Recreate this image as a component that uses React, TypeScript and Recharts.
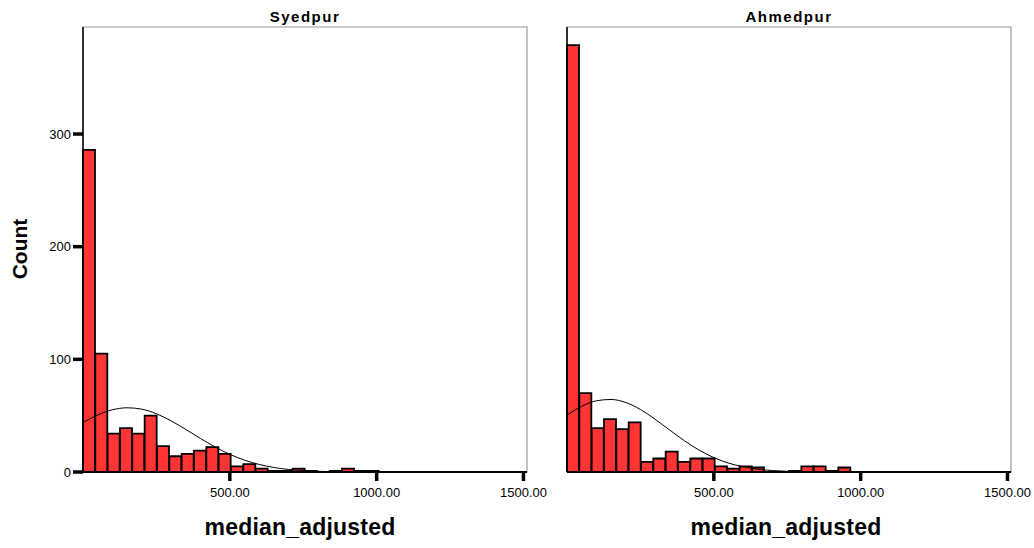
import { ComposedChart, Bar, Line, XAxis, YAxis, ReferenceArea } from 'recharts';

const binStarts = [
  0, 42, 84, 126, 168, 210, 252, 294, 336, 378, 420, 462, 504, 546, 588, 630, 672, 714,
  756, 798, 840, 882, 924, 966, 1008, 1050, 1092, 1134, 1176, 1218, 1260, 1302, 1344, 1386, 1428, 1470,
];
const binWidth = 42;

const syedpurCounts = [
  286, 105, 34, 39, 34, 50, 23, 14, 16, 19, 22, 16, 5, 7, 3, 1, 1, 3,
  1, 0, 1, 3, 1, 1, 0, 0, 0, 0, 0, 0, 0, 0, 0, 0, 0, 0,
];
const ahmedpurCounts = [
  379, 70, 39, 47, 38, 44, 9, 12, 18, 9, 12, 12, 5, 3, 5, 4, 0, 0,
  1, 5, 5, 1, 4, 0, 0, 0, 0, 0, 0, 0, 0, 0, 0, 0, 0, 0,
];

// normal curve
const curveX = [
  0, 50, 100, 150, 200, 250, 300, 350, 400, 450, 500, 550, 600, 650, 700, 750, 800, 850, 900,
  1000, 1100, 1200, 1300, 1400, 1500,
];
const syedpurNormal = [
  44, 50.6, 55.2, 57, 55.8, 51.7, 45.4, 37.8, 29.8, 22.2, 15.7, 10.5, 6.7, 4, 2.3, 1.2, 0.6, 0.3, 0.1,
  0, 0, 0, 0, 0, 0,
];
const ahmedpurNormal = [
  50.5, 58.3, 63.2, 64.4, 61.7, 55.5, 46.8, 37.2, 27.7, 19.4, 12.8, 7.9, 4.6, 2.5, 1.3, 0.6, 0.3, 0.1, 0,
  0, 0, 0, 0, 0, 0,
];

const xTicks = [500, 1000, 1500];
const yTicks = [0, 100, 200, 300];

const FONT = 'Arial, "Liberation Sans", sans-serif';
const W = 560;
const H = 548;

function Panel({ counts, normal, showYLabels }: { counts: number[]; normal: number[]; showYLabels: boolean }) {
  const data = binStarts.map((b, i) => ({ bin: String(b), x: b + binWidth / 2, count: counts[i] }));
  const curve = curveX.map((x, i) => ({ x, normal: normal[i] }));

  return (
    <ComposedChart
      width={W}
      height={H}
      data={data}
      barCategoryGap={0}
      margin={{ top: 27, right: 33, left: 0, bottom: 0 }}
    >
      <ReferenceArea
        xAxisId="num"
        x1={0}
        x2={1512}
        y1={0}
        y2={395}
        fill="none"
        stroke="#999999"
        strokeWidth={1.2}
        ifOverflow="visible"
      />
      <XAxis xAxisId="cat" dataKey="bin" type="category" hide height={0} />
      <XAxis
        xAxisId="num"
        dataKey="x"
        type="number"
        domain={[0, 1512]}
        allowDataOverflow
        ticks={xTicks}
        tickFormatter={(v: number) => v.toFixed(2)}
        height={76}
        tickSize={9}
        tickMargin={7}
        axisLine={{ stroke: '#000', strokeWidth: 2 }}
        tickLine={{ stroke: '#000', strokeWidth: 3.5 }}
        tick={{ fill: '#000', fontSize: 13, fontFamily: FONT }}
      />
      <YAxis
        domain={[0, 395]}
        allowDataOverflow
        ticks={yTicks}
        width={83}
        tickSize={10}
        tickMargin={2}
        axisLine={{ stroke: '#000', strokeWidth: 1.5 }}
        tickLine={{ stroke: '#000', strokeWidth: 3.5 }}
        tick={showYLabels ? { fill: '#000', fontSize: 13, fontFamily: FONT } : false}
      />
      <Bar
        xAxisId="cat"
        dataKey="count"
        fill="#ff3434"
        stroke="#000"
        strokeWidth={1.8}
        isAnimationActive={false}
      />
      <Line
        xAxisId="num"
        data={curve}
        dataKey="normal"
        type="monotone"
        stroke="#000"
        strokeWidth={1}
        dot={false}
        activeDot={false}
        isAnimationActive={false}
      />
    </ComposedChart>
  );
}

export default function App() {
  return (
    <div
      style={{
        position: 'absolute',
        left: 0,
        top: 0,
        width: 1034,
        height: 548,
        background: '#fff',
        overflow: 'hidden',
      }}
    >
      <div style={{ position: 'absolute', left: 0, top: 0 }}>
        <Panel counts={syedpurCounts} normal={syedpurNormal} showYLabels />
      </div>
      <div style={{ position: 'absolute', left: 484, top: 0 }}>
        <Panel counts={ahmedpurCounts} normal={ahmedpurNormal} showYLabels={false} />
      </div>
      <svg
        width={1034}
        height={548}
        style={{ position: 'absolute', left: 0, top: 0, pointerEvents: 'none' }}
        fontFamily={FONT}
      >
        <text x={305} y={22} textAnchor="middle" fontSize={15} fontWeight="bold" letterSpacing={1.5}>
          Syedpur
        </text>
        <text x={789} y={22} textAnchor="middle" fontSize={15} fontWeight="bold" letterSpacing={1.5}>
          Ahmedpur
        </text>
        <text x={300} y={535} textAnchor="middle" fontSize={23} fontWeight="bold" letterSpacing={0.2}>
          median_adjusted
        </text>
        <text x={786} y={535} textAnchor="middle" fontSize={23} fontWeight="bold" letterSpacing={0.2}>
          median_adjusted
        </text>
        <text
          x={27}
          y={249}
          textAnchor="middle"
          fontSize={21}
          fontWeight="bold"
          transform="rotate(-90 27 249)"
        >
          Count
        </text>
      </svg>
    </div>
  );
}
